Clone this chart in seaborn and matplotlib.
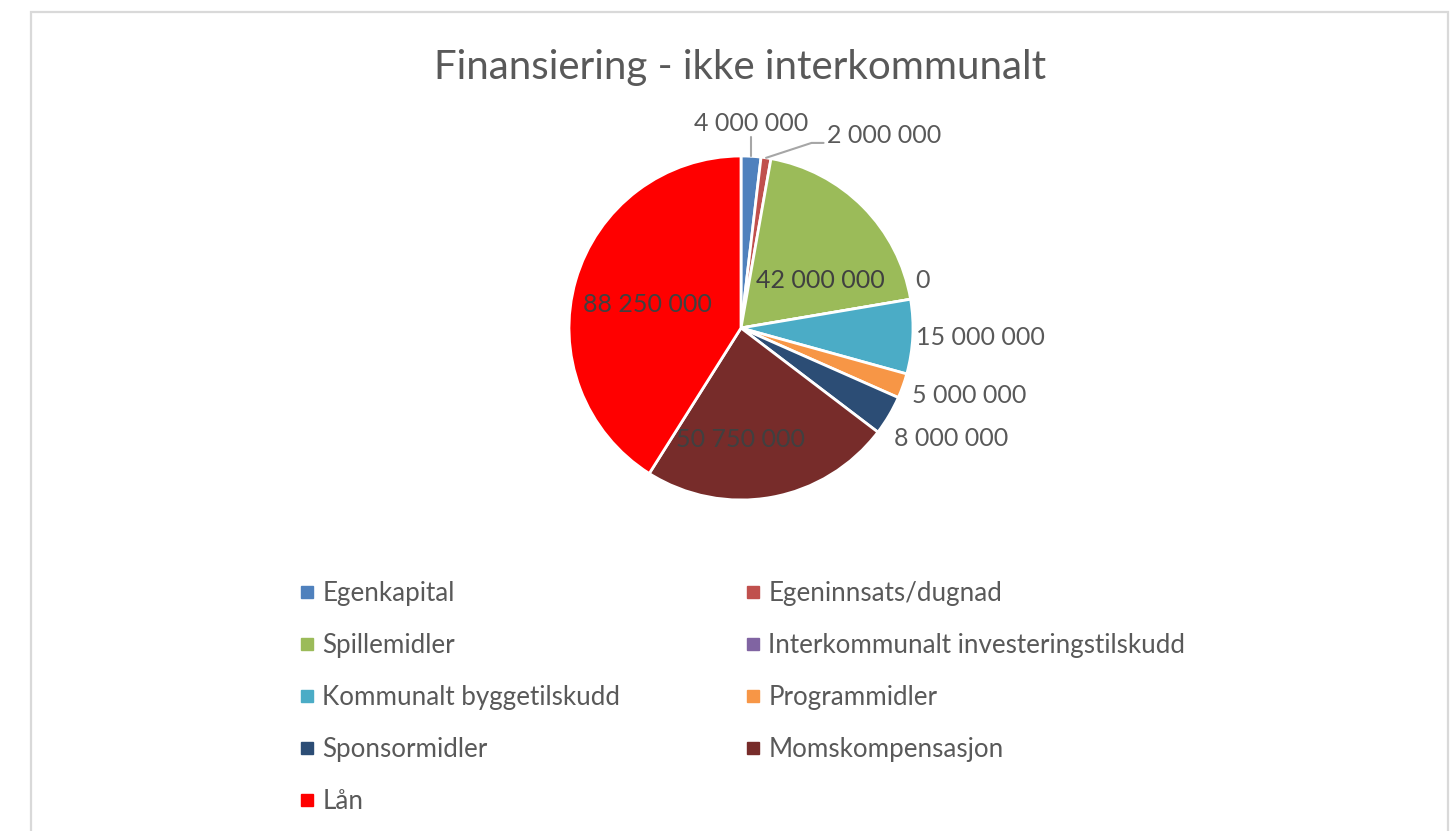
import matplotlib
matplotlib.use("Agg")
import matplotlib.pyplot as plt
from matplotlib.lines import Line2D
from matplotlib.patches import Rectangle
import numpy as np
import seaborn as sns

# data
categories = [
    "Egenkapital",
    "Egeninnsats/dugnad",
    "Spillemidler",
    "Interkommunalt investeringstilskudd",
    "Kommunalt byggetilskudd",
    "Programmidler",
    "Sponsormidler",
    "Momskompensasjon",
    "Lån",
]
values = [4000000, 2000000, 42000000, 0, 15000000, 5000000, 8000000, 50750000, 88250000]
colors = ["#4F81BD", "#C0504D", "#9BBB59", "#8064A2", "#4BACC6",
          "#F79646", "#2C4D75", "#772C2A", "#FF0000"]
title = "Finansiering - ikke interkommunalt"

# where Excel's "best fit" put the labels (angle in degrees, radius fraction)
inside_pos = {"Spillemidler": (31, 0.54), "Momskompensasjon": (-90, 0.65), "Lån": (166, 0.56)}
outside_pos = {"Interkommunalt investeringstilskudd": (15.3, 1.05),
               "Kommunalt byggetilskudd": (-3.2, 1.02),
               "Programmidler": (-21.6, 1.07),
               "Sponsormidler": (-35.8, 1.1)}

sns.set_theme(style="white")
plt.rcParams["font.family"] = ["Lato", "DejaVu Sans"]
text_color = "#595959"
W, H = 1456, 831
label_size = 18


def fmt(v):
    return f"{v:,}".replace(",", " ")


fig = plt.figure(figsize=(W / 100, H / 100), dpi=100)
fig.patch.set_facecolor("white")

# chart area border
fig.patches.append(Rectangle((31 / W, -0.05), (1448 - 31) / W, 1.05 - 12 / H,
                             transform=fig.transFigure, fill=False,
                             edgecolor="#d9d9d9", linewidth=1.6))

fig.text(740 / W, 1 - 67 / H, title, ha="center", va="center",
         fontsize=29, color=text_color)

# pie axes, center ~ (741, 328) px, radius ~172 px
ax = fig.add_axes([(741 - 172) / W, 1 - (328 + 172) / H, 344 / W, 344 / H])
wedges, _ = ax.pie(values, colors=colors, startangle=90, counterclock=False,
                   wedgeprops=dict(edgecolor="white", linewidth=2))
ax.set_xlim(-1, 1)
ax.set_ylim(-1, 1)
ax.set_aspect("equal")

leader = dict(color="#a6a6a6", lw=1.5, clip_on=False)
for w, v, name in zip(wedges, values, categories):
    mid = (w.theta1 + w.theta2) / 2
    rad = np.deg2rad(mid)
    cx, cy = np.cos(rad), np.sin(rad)
    label = fmt(v)
    if name in inside_pos:
        a, r = inside_pos[name]
        a = np.deg2rad(a)
        ax.text(r * np.cos(a), r * np.sin(a), label, ha="center", va="center",
                fontsize=label_size, color="#404040")
    elif name in outside_pos:
        a, r = outside_pos[name]
        a = np.deg2rad(a)
        ax.text(r * np.cos(a), r * np.sin(a), label, ha="left", va="center",
                fontsize=label_size, color=text_color)
    elif mid > 84:
        ax.plot([cx, cx], [cy, 1.11], **leader)
        ax.text(cx, 1.19, label, ha="center", va="center",
                fontsize=label_size, color=text_color)
    else:
        ax.plot([cx, 0.41, 0.48], [cy, 1.076, 1.076], **leader)
        ax.text(0.50, 1.12, label, ha="left", va="center",
                fontsize=label_size, color=text_color)

# legend, row-major order like the original
order = [0, 2, 4, 6, 8, 1, 3, 5, 7]
handles = [Line2D([], [], marker="s", linestyle="", markersize=8, color=colors[i])
           for i in order]
labels = [categories[i] for i in order]
fig.legend(handles, labels, loc="upper left",
           bbox_to_anchor=(299 / W, 1 - 581 / H), ncol=2, frameon=False,
           fontsize=18.7, labelcolor=text_color, handlelength=0.6,
           handletextpad=0.3, columnspacing=4.8, labelspacing=1.04,
           borderpad=0, borderaxespad=0)

fig.savefig("out.png", dpi=100)
